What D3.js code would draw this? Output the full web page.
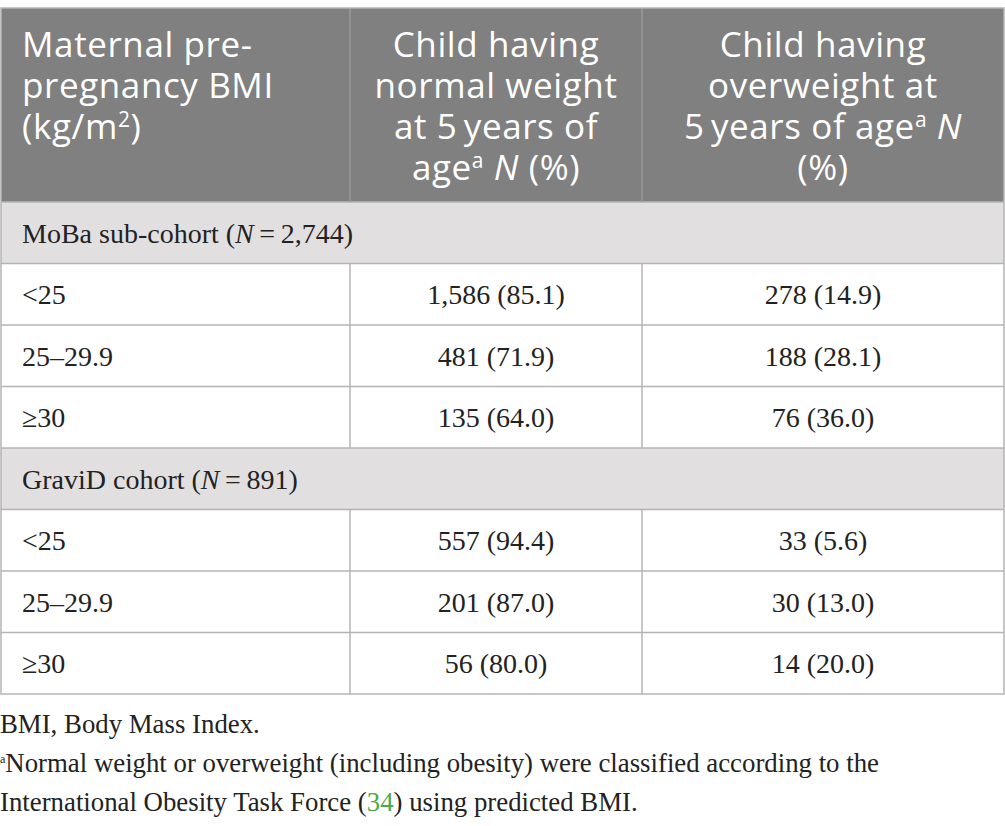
<!DOCTYPE html>
<html>
<head>
<meta charset="utf-8">
<script src="https://cdn.jsdelivr.net/npm/d3@7"></script>
<style>
  body { margin: 0; background: #fff; }
  svg { display: block; }
</style>
</head>
<body>
<div id="chartArea"></div>
<script>
// table content
var headerCol1 = ['Maternal pre-', 'pregnancy BMI', '(kg/m|2|)'];
var headerCol2 = ['Child having', 'normal weight', 'at 5\u2009years of', 'age|a| *N* (%)'];
var headerCol3 = ['Child having', 'overweight at', '5\u2009years of age|a| *N*', '(%)'];
var groups = ['MoBa sub-cohort', 'GraviD cohort'];
var groupN = ['2,744', '891'];
var bmiCats = ['<25', '25\u201329.9', '\u226530'];
var normalN = [[1586, 481, 135], [557, 201, 56]];
var normalPct = [[85.1, 71.9, 64.0], [94.4, 87.0, 80.0]];
var overN = [[278, 188, 76], [33, 30, 14]];
var overPct = [[14.9, 28.1, 36.0], [5.6, 13.0, 20.0]];
var footnotes = ['BMI, Body Mass Index.',
  '|a|Normal weight or overweight (including obesity) were classified according to the',
  'International Obesity Task Force (#34#) using predicted BMI.'];

var width = 1005, height = 826;
var colEdges = [1, 350, 642, 1004];
var headTop = 8, headBottom = 202, tableBottom = 694;
var lineColor = '#b4b4b4';
var sansFont = '"Open Sans", sans-serif';
var serifFont = '"Liberation Serif", "Times New Roman", serif';

var fmtN = d3.format(',');
var fmtP = d3.format('.1f');

// build row list from the arrays
var rows = [];
groups.forEach(function(g, gi) {
  rows.push({type: 'group', label: g, n: groupN[gi]});
  bmiCats.forEach(function(c, ci) {
    rows.push({type: 'data', cells: [c,
      fmtN(normalN[gi][ci]) + ' (' + fmtP(normalPct[gi][ci]) + ')',
      fmtN(overN[gi][ci]) + ' (' + fmtP(overPct[gi][ci]) + ')']});
  });
});

var yscale = d3.scaleBand().domain(d3.range(rows.length)).range([headBottom, tableBottom]);

var svg = d3.select('#chartArea').append('svg')
  .attr('width', width).attr('height', height);

// writes a line with |sup|, *italic* and #green# markup as tspans
function richText(sel, str, supSize, supShift) {
  var parts = str.split(/(\|[^|]*\||\*[^*]*\*|#[^#]*#)/).filter(function(p) { return p.length; });
  parts.forEach(function(p) {
    if (p[0] === '|') {
      sel.append('tspan').attr('font-size', supSize)
        .attr('baseline-shift', supShift).text(p.slice(1, -1));
    } else if (p[0] === '*') {
      sel.append('tspan').attr('font-style', 'italic').text(p.slice(1, -1));
    } else if (p[0] === '#') {
      sel.append('tspan').attr('fill', '#4aab4a').text(p.slice(1, -1));
    } else {
      sel.append('tspan').text(p);
    }
  });
}

// header
svg.append('rect')
  .attr('x', colEdges[0]).attr('y', headTop)
  .attr('width', colEdges[3] - colEdges[0]).attr('height', headBottom - headTop)
  .attr('fill', '#808080');

var headLines = [headerCol1, headerCol2, headerCol3];
headLines.forEach(function(lines, ci) {
  var x = ci === 0 ? 22 : (colEdges[ci] + colEdges[ci + 1]) / 2;
  // one text per header cell, a tspan per wrapped line
  var t = svg.append('text')
    .attr('text-anchor', ci === 0 ? 'start' : 'middle')
    .attr('font-family', sansFont).attr('font-size', 35)
    .attr('letter-spacing', 0.6)
    .attr('fill', '#fff');
  lines.forEach(function(l, li) {
    var line = t.append('tspan').attr('x', x).attr('y', 57 + li * 41);
    richText(line, l, 21, 12);
  });
});

// body rows
var rowG = svg.selectAll('g.row').data(rows).enter().append('g')
  .attr('class', 'row')
  .attr('transform', function(d, i) { return 'translate(0,' + yscale(i) + ')'; });

rowG.append('rect')
  .attr('x', colEdges[0]).attr('width', colEdges[3] - colEdges[0])
  .attr('height', yscale.bandwidth())
  .attr('fill', function(d) { return d.type === 'group' ? '#e1dfe0' : '#fff'; });

rowG.filter(function(d) { return d.type === 'group'; })
  .append('text')
  .attr('x', 22).attr('y', yscale.bandwidth() / 2 + 10)
  .attr('font-family', serifFont).attr('font-size', 28).attr('fill', '#222')
  .each(function(d) {
    richText(d3.select(this), d.label + ' (*N*\u2009=\u2009' + d.n + ')', 16, 10);
  });

rowG.filter(function(d) { return d.type === 'data'; })
  .selectAll('text').data(function(d) { return d.cells; }).enter().append('text')
  .attr('x', function(d, i) { return i === 0 ? 22 : (colEdges[i] + colEdges[i + 1]) / 2; })
  .attr('y', yscale.bandwidth() / 2 + 10)
  .attr('text-anchor', function(d, i) { return i === 0 ? 'start' : 'middle'; })
  .attr('font-family', serifFont).attr('font-size', 28).attr('fill', '#222')
  .text(function(d) { return d; });

// grid lines
var grid = svg.append('g').attr('stroke', lineColor).attr('stroke-width', 1.5).attr('fill', 'none');
rows.forEach(function(d, i) {
  grid.append('line')
    .attr('x1', colEdges[0]).attr('x2', colEdges[3])
    .attr('y1', yscale(i)).attr('y2', yscale(i));
  if (d.type === 'data') {
    [1, 2].forEach(function(c) {
      grid.append('line')
        .attr('x1', colEdges[c]).attr('x2', colEdges[c])
        .attr('y1', yscale(i)).attr('y2', yscale(i) + yscale.bandwidth());
    });
  }
});
[1, 2].forEach(function(c) {
  grid.append('line').attr('stroke', '#999')
    .attr('x1', colEdges[c]).attr('x2', colEdges[c])
    .attr('y1', headTop).attr('y2', headBottom);
});
grid.append('rect')
  .attr('x', colEdges[0]).attr('y', headTop)
  .attr('width', colEdges[3] - colEdges[0]).attr('height', tableBottom - headTop);

// footnotes, one text with a tspan per line
var foot = svg.append('text')
  .attr('font-family', serifFont).attr('font-size', 26.8).attr('fill', '#222');
footnotes.forEach(function(f, i) {
  var line = foot.append('tspan').attr('x', 0).attr('y', 733 + i * 39);
  richText(line, f, 12, 9);
});
</script>
</body>
</html>
